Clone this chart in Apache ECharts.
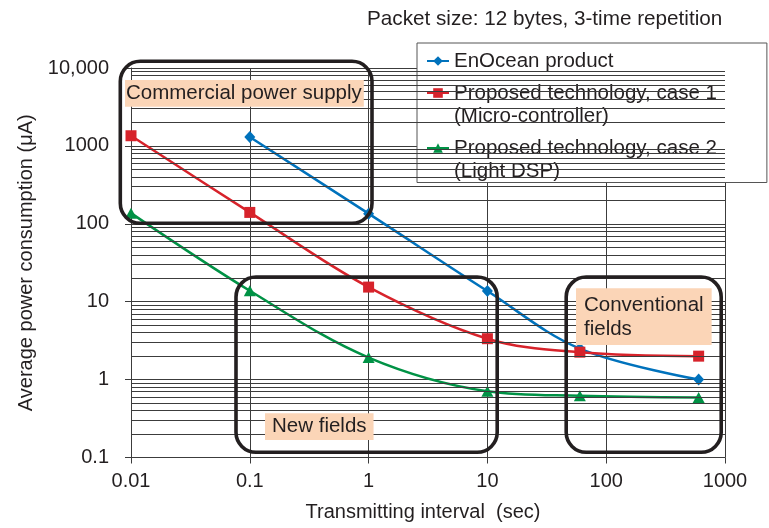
<!DOCTYPE html>
<html>
<head>
<meta charset="utf-8">
<script src="https://cdn.jsdelivr.net/npm/echarts@6/dist/echarts.min.js"></script>
<style>
  html, body { margin: 0; padding: 0; background: #ffffff; }
  #chart { width: 769px; height: 528px; }
</style>
</head>
<body>
<div id="chart"></div>
<script>
// Power consumption vs. transmitting interval (log-log)
const FONT = '"Liberation Sans", Arial, Helvetica, sans-serif';
const TEXT = '#231f20';
const GRID = '#3c3c3c';

// Axis tick labels (one per decade)
const xTickLabels = ['0.01', '0.1', '1', '10', '100', '1000'];
const yTickLabels = ['0.1', '1', '10', '100', '1000', '10,000'];

// Series names
const seriesNames = [
  'EnOcean product',
  'Proposed technology, case 1\n(Micro-controller)',
  'Proposed technology, case 2\n(Light DSP)'
];

// Transmitting interval (sec) and average current (uA)
const enoceanX = [0.1, 1, 10, 60, 600];
const enoceanY = [1300, 135, 13.7, 2.5, 1.0];

const case1X = [0.01, 0.1, 1, 10, 60, 600];
const case1Y = [1350, 140, 15.4, 3.35, 2.25, 2.0];

const case2X = [0.01, 0.1, 1, 10, 60, 600];
const case2Y = [137, 13.8, 1.92, 0.71, 0.62, 0.59];

const seriesColors = ['#0072bc', '#d7232b', '#009245'];

function pairs(xs, ys) {
  return xs.map((x, i) => [x, ys[i]]);
}

// Minor horizontal grid at 2..9 within every decade of the y range
const minorY = [];
for (let d = -1; d < 4; d++) {
  for (let k = 2; k <= 9; k++) {
    minorY.push(k * Math.pow(10, d));
  }
}

const chart = echarts.init(document.getElementById('chart'), null, { renderer: 'canvas' });

const option = {
  animation: false,
  backgroundColor: '#ffffff',
  title: {
    text: 'Packet size: 12 bytes, 3-time repetition',
    left: 367,
    top: 9,
    padding: 0,
    textStyle: { fontSize: 20.7, fontWeight: 'normal', color: TEXT, fontFamily: FONT }
  },
  grid: { left: 131, right: 44, top: 68, bottom: 70.5 },
  legend: {
    orient: 'vertical',
    left: 417,
    top: 43,
    padding: [6.5, 50, 0, 9],
    itemGap: -14,
    itemWidth: 22,
    itemHeight: 12,
    selectedMode: false,
    backgroundColor: '#ffffff',
    borderColor: '#555555',
    borderWidth: 1,
    textStyle: { fontSize: 20.5, lineHeight: 23, color: TEXT, fontFamily: FONT },
    // two-line entries: a blank line above keeps the first line level with the icon
    formatter: name => (name.indexOf('\n') >= 0 ? ' \n' + name : name),
    data: seriesNames
  },
  xAxis: {
    type: 'log',
    logBase: 10,
    min: 0.01,
    max: 1000,
    name: 'Transmitting interval  (sec)',
    nameLocation: 'middle',
    nameGap: 45,
    nameTextStyle: { fontSize: 20, color: TEXT, fontFamily: FONT, padding: [0, 10, 0, 0] },
    axisLine: { show: true, onZero: false, lineStyle: { color: GRID, width: 1 } },
    axisTick: { show: true, length: 6, lineStyle: { color: GRID } },
    axisLabel: {
      fontSize: 20, color: TEXT, fontFamily: FONT, margin: 14,
      formatter: v => xTickLabels[Math.round(Math.log10(v)) + 2]
    },
    splitLine: { show: true, lineStyle: { color: GRID, width: 1 } },
    minorTick: { show: false },
    minorSplitLine: { show: false }
  },
  yAxis: {
    type: 'log',
    logBase: 10,
    min: 0.1,
    max: 10000,
    name: 'Average power consumption (\u03bcA)',
    nameLocation: 'middle',
    nameGap: 95,
    nameTextStyle: { fontSize: 20, color: TEXT, fontFamily: FONT },
    axisLine: { show: true, lineStyle: { color: GRID, width: 1 } },
    axisTick: { show: true, length: 6, lineStyle: { color: GRID } },
    axisLabel: {
      fontSize: 20, color: TEXT, fontFamily: FONT, margin: 22,
      formatter: v => yTickLabels[Math.round(Math.log10(v)) + 1]
    },
    splitLine: { show: true, lineStyle: { color: GRID, width: 1 } }
  },
  series: [
    {
      // minor gridlines only
      type: 'line',
      name: '_minor',
      data: [],
      silent: true,
      z: 1,
      markLine: {
        silent: true,
        symbol: 'none',
        label: { show: false },
        lineStyle: { color: GRID, width: 1, type: 'solid' },
        emphasis: { disabled: true },
        data: minorY.map(v => ({ yAxis: v }))
      }
    },
    {
      name: seriesNames[0],
      type: 'line',
      smooth: 0.35,
      data: pairs(enoceanX, enoceanY),
      symbol: 'diamond',
      symbolSize: [11, 12],
      z: 3,
      lineStyle: { color: seriesColors[0], width: 2.5 },
      itemStyle: { color: seriesColors[0] }
    },
    {
      name: seriesNames[1],
      type: 'line',
      smooth: 0.35,
      data: pairs(case1X, case1Y),
      symbol: 'rect',
      symbolSize: 11,
      z: 3,
      lineStyle: { color: seriesColors[1], width: 2.5 },
      itemStyle: { color: seriesColors[1] }
    },
    {
      name: seriesNames[2],
      type: 'line',
      smooth: 0.35,
      data: pairs(case2X, case2Y),
      symbol: 'triangle',
      symbolSize: [12, 11],
      z: 3,
      lineStyle: { color: seriesColors[2], width: 2.5 },
      itemStyle: { color: seriesColors[2] }
    }
  ]
};

chart.setOption(option);

// Region annotations: rounded frames with shaded captions
const PEACH = '#fbd5b7';
const frameStyle = { fill: 'none', stroke: '#231f20', lineWidth: 3.6 };
chart.setOption({
  graphic: [
    { type: 'rect', z: 50, shape: { x: 120.3, y: 61.3, width: 251.7, height: 162, r: 20 }, style: frameStyle },
    { type: 'rect', z: 50, shape: { x: 236, y: 277, width: 261.2, height: 175.3, r: 20 }, style: frameStyle },
    { type: 'rect', z: 50, shape: { x: 566.2, y: 277, width: 155, height: 175.3, r: 20 }, style: frameStyle },
    {
      type: 'text', z: 51, x: 125, y: 80,
      style: {
        text: 'Commercial power supply', font: '20.5px ' + FONT, fill: TEXT,
        lineHeight: 26.7, backgroundColor: PEACH, padding: [0, 2, 0, 1]
      }
    },
    {
      type: 'text', z: 51, x: 265, y: 413.3,
      style: {
        text: 'New fields', font: '20.5px ' + FONT, fill: TEXT,
        lineHeight: 26.7, backgroundColor: PEACH, padding: [0, 7, 0, 7]
      }
    },
    {
      type: 'text', z: 51, x: 576, y: 288.3,
      style: {
        text: 'Conventional\nfields', font: '20.5px ' + FONT, fill: TEXT,
        lineHeight: 24, backgroundColor: PEACH, padding: [5.5, 8, 3.2, 8]
      }
    }
  ]
});
</script>
</body>
</html>
